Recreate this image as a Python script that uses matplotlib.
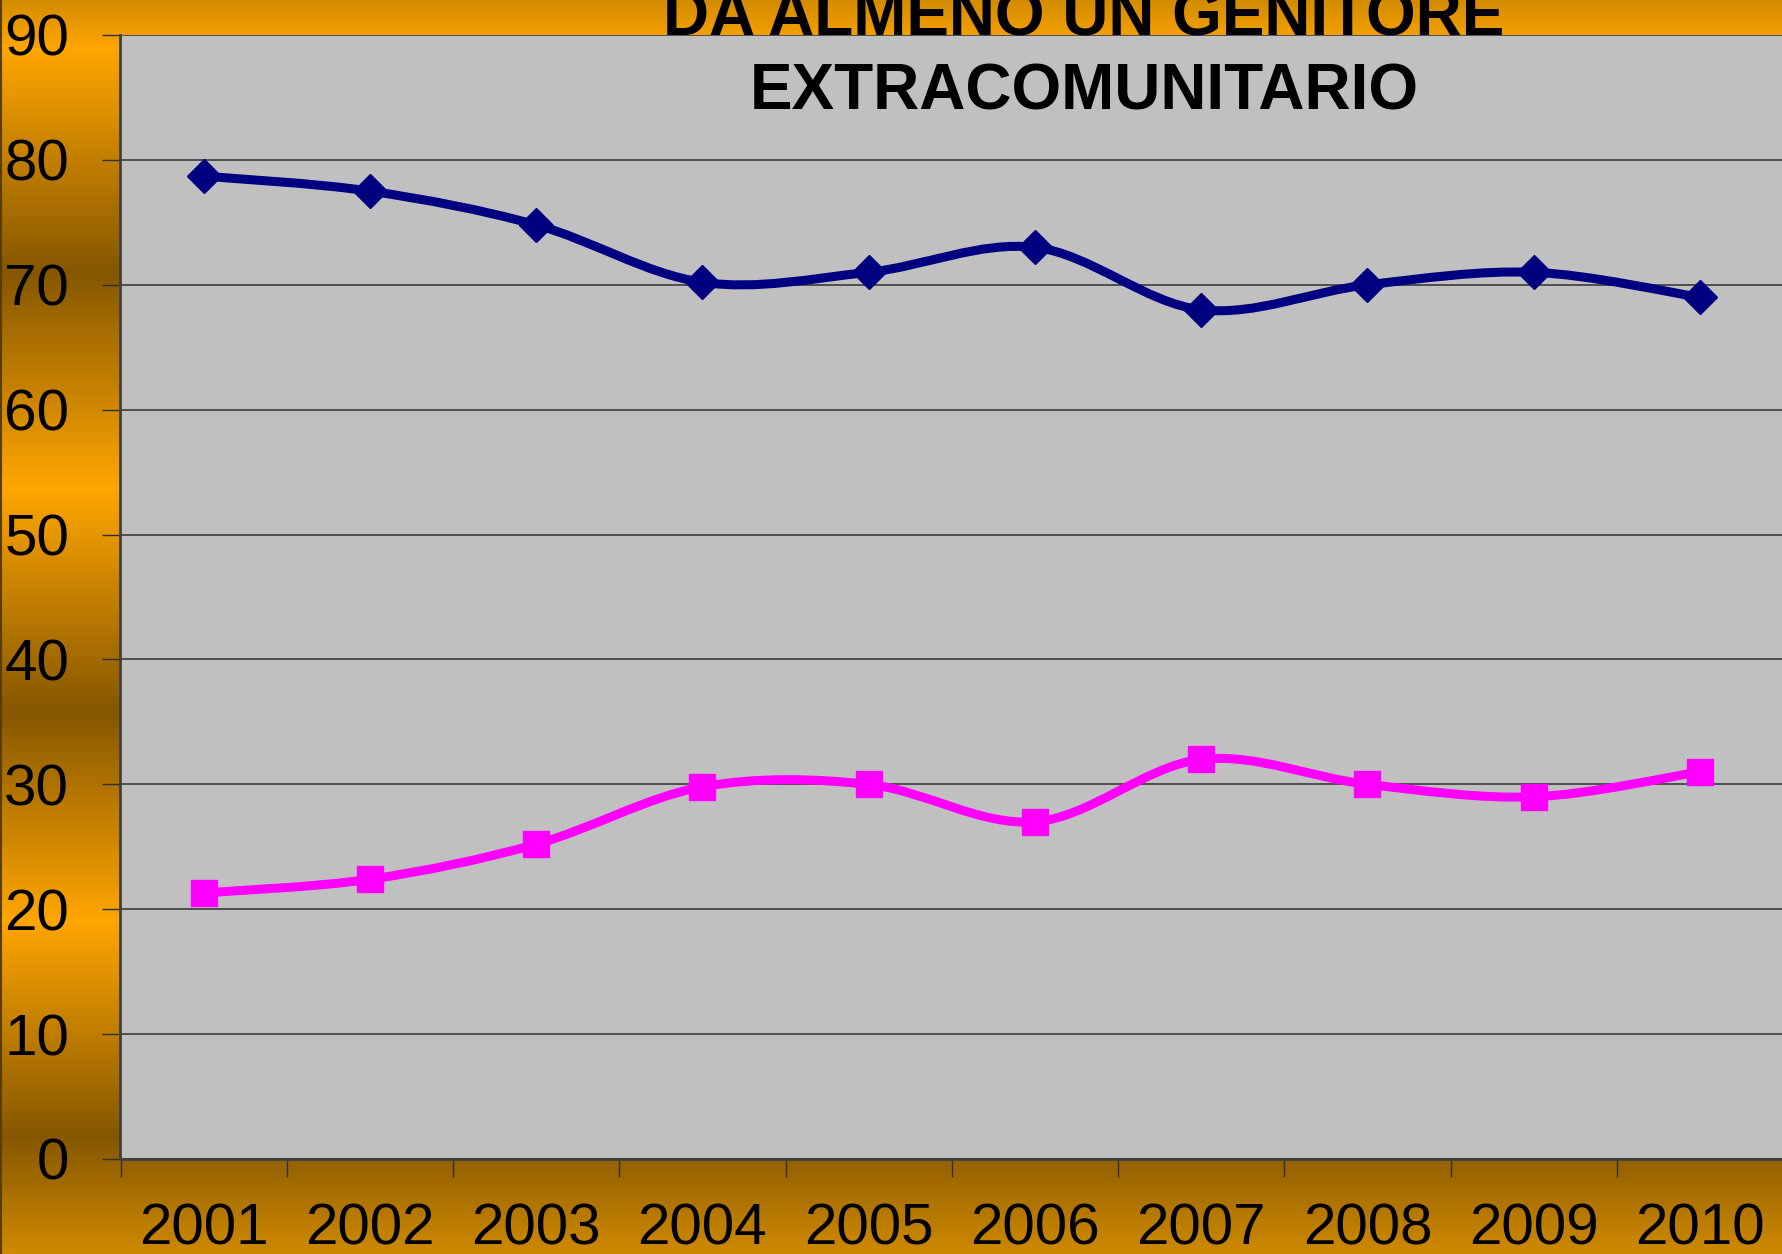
import numpy as np
import matplotlib
matplotlib.use("Agg")
import matplotlib.pyplot as plt
from matplotlib.path import Path
from matplotlib.patches import PathPatch
from matplotlib.lines import Line2D

# data
years = ["2001", "2002", "2003", "2004", "2005", "2006", "2007", "2008", "2009", "2010"]
navy_vals = [78.7, 77.5, 74.8, 70.2, 71.0, 73.0, 68.0, 70.0, 71.0, 69.0]
pink_vals = [21.3, 22.4, 25.2, 29.8, 30.0, 27.0, 32.0, 30.0, 29.0, 31.0]
y_ticks = [0, 10, 20, 30, 40, 50, 60, 70, 80, 90]
title_lines = ["DA ALMENO UN GENITORE", "EXTRACOMUNITARIO"]

W, H = 1783, 1254
plt.rcParams['font.family'] = ['Liberation Sans', 'DejaVu Sans']

fig = plt.figure(figsize=(W / 100, H / 100), dpi=100)

# banded orange/brown background of the slide
stops_px = [0, 48, 272, 488, 712, 920, 1136, 1254]
stop_cols = ['#D38C00', '#FFA600', '#855700', '#FFA600', '#855700', '#FFA600', '#855700', '#D08A00']
rgb = np.array([matplotlib.colors.to_rgb(c) for c in stop_cols])
rows = np.arange(H)
grad = np.stack([np.interp(rows, stops_px, rgb[:, k]) for k in range(3)], axis=-1)
bg = fig.add_axes([0, 0, 1, 1], zorder=-5)
bg.imshow(grad[:, None, :], aspect='auto', extent=[0, 1, 0, 1])
bg.set_axis_off()
fig.add_artist(Line2D([0.0006, 0.0006], [0, 1], color='#5A3C00', lw=1.5))

left, right = 120.5 / W, 1.0
bottom, top = (H - 1159) / H, (H - 35) / H
ax = fig.add_axes([left, bottom, right - left, top - bottom])
ax.set_facecolor('#C0C0C0')

x = np.arange(len(years))
ax.set_xlim(-0.5, len(years) - 0.5)
ax.set_ylim(0, 90)


def smooth_path(xs, ys):
    # Excel-style smoothed line: cubic Bezier segments through the points
    pts = np.column_stack([xs, ys]).astype(float)
    n = len(pts)
    verts = [pts[0]]
    codes = [Path.MOVETO]
    for i in range(n - 1):
        p0 = pts[max(i - 1, 0)]
        p1 = pts[i]
        p2 = pts[i + 1]
        p3 = pts[min(i + 2, n - 1)]
        c1 = p1 + (p2 - p0) / 6.0
        c2 = p2 - (p3 - p1) / 6.0
        verts += [c1, c2, p2]
        codes += [Path.CURVE4] * 3
    return Path(verts, codes)


for vals, col, mk, ms in [(navy_vals, '#000080', 'D', 17.5), (pink_vals, '#FF00FF', 's', 19)]:
    patch = PathPatch(smooth_path(x, vals), fill=False, edgecolor=col, lw=6.5,
                      transform=ax.transData, zorder=3, capstyle='round', joinstyle='round')
    ax.add_patch(patch)
    ax.plot(x, vals, linestyle='none', marker=mk, markersize=ms, color=col,
            markeredgecolor=col, zorder=4, clip_on=False)

# grid and axes
ax.set_yticks(y_ticks)
ax.yaxis.grid(True, color='#303030', linewidth=1.1)
ax.set_axisbelow(True)
ax.tick_params(axis='y', direction='out', length=13, width=1, color='#303030',
               labelsize=42, pad=24)
ax.set_xticks(x)
ax.set_xticklabels(years)
ax.set_xticks(np.arange(-0.5, len(years), 1.0), minor=True)
ax.tick_params(axis='x', which='major', length=0, labelsize=42, pad=31)
ax.tick_params(axis='x', which='minor', direction='out', length=13, width=1, color='#303030')
for s in ['top', 'right']:
    ax.spines[s].set_visible(False)
for s in ['left', 'bottom']:
    ax.spines[s].set_color('#404040')
    ax.spines[s].set_linewidth(2)

fig.text(1084 / W, 1 - 35 / H, title_lines[0], ha='center', va='baseline',
         fontsize=46, fontweight='bold', color='black')
fig.text(1084 / W, 1 - 110 / H, title_lines[1], ha='center', va='baseline',
         fontsize=46, fontweight='bold', color='black')

fig.savefig('out.png', dpi=100)
